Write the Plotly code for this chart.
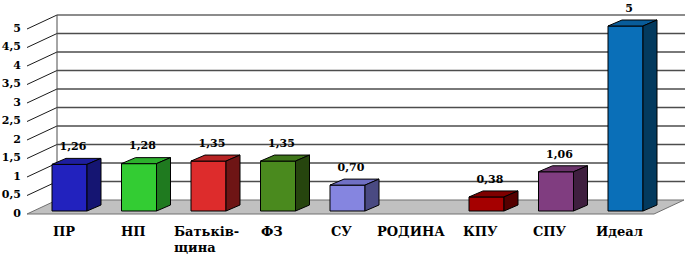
import plotly.graph_objects as go

# ---------------- data ----------------
categories = ["ПР", "НП", "Батьків-<br>щина", "ФЗ", "СУ", "РОДИНА", "КПУ", "СПУ", "Идеал"]
values = [1.26, 1.28, 1.35, 1.35, 0.70, 0.0, 0.38, 1.06, 5.0]
value_labels = ["1,26", "1,28", "1,35", "1,35", "0,70", "", "0,38", "1,06", "5"]
tick_values = [0, 0.5, 1, 1.5, 2, 2.5, 3, 3.5, 4, 4.5, 5]
tick_labels = ["0", "0,5", "1", "1,5", "2", "2,5", "3", "3,5", "4", "4,5", "5"]

front_colors = ["#2222BE", "#33CC33", "#DD2C2C", "#4A8A1E", "#8585E0", "#888888", "#A50000", "#803D80", "#0A6FB8"]
top_colors   = ["#1E1E9E", "#2DB02D", "#B82424", "#3E7519", "#7070C4", "#777777", "#7E0000", "#6A336A", "#085C9A"]
side_colors  = ["#151572", "#1F7A1F", "#6E1515", "#26450E", "#4A4A82", "#555555", "#550000", "#3F1F3F", "#033A5E"]

# ---------------- geometry (pixel based scale helpers) ----------------
W, H = 685, 256
PX_CAT = 69.5      # pixels per category
X0_PX = 69.5       # pixel of first category centre
PX_UNIT = 37.0     # pixels per value unit
Y0_PX = 211.0      # pixel of value 0 on bar front face

def px_x(p):
    return (p - X0_PX) / PX_CAT

def px_dy(p):
    return p / PX_UNIT

def px_y(p):
    return (Y0_PX - p) / PX_UNIT

x_range = [px_x(0), px_x(W)]
y_range = [px_y(H), px_y(0)]

half = 17.5 / PX_CAT          # half bar width
ddx = 14 / PX_CAT             # bar depth in x
ddy = px_dy(6)                # bar depth in y
front_off = -px_dy(3)         # wall front plane offset
back_off = px_dy(11)          # back wall offset
x_left_front = px_x(27)
x_left_back = px_x(57)
x_right_front = px_x(654)
x_right_back = px_x(684)
x_wall_right = px_x(690)
vmax = tick_values[-1]

fig = go.Figure()

def poly(xs, ys, fill, line_color="black", lw=1):
    fig.add_trace(go.Scatter(x=xs + [xs[0]], y=ys + [ys[0]], mode="lines", fill="toself",
                             fillcolor=fill, line=dict(color=line_color, width=lw),
                             hoverinfo="skip", showlegend=False))

def line(xs, ys, color, lw):
    fig.add_trace(go.Scatter(x=xs, y=ys, mode="lines", line=dict(color=color, width=lw),
                             hoverinfo="skip", showlegend=False))

# floor
poly([x_left_front, x_right_front, x_right_back, x_left_back],
     [front_off, front_off, back_off, back_off], "#C0C0C0", "#707070", 1)

# gridlines on back wall and left wall
for v in tick_values[1:-1]:
    line([x_left_back, x_wall_right], [v + back_off, v + back_off], "#4D4D4D", 1.5)
    line([x_left_front, x_left_back], [v + front_off, v + back_off], "#1A1A1A", 1)
# wall borders
line([x_left_back, x_wall_right], [vmax + back_off, vmax + back_off], "#1A1A1A", 1.2)
line([x_left_front, x_left_back], [vmax + front_off, vmax + back_off], "#1A1A1A", 1)
line([x_left_back, x_left_back], [back_off, vmax + back_off], "#4D4D4D", 1)

# bars
for i, v in enumerate(values):
    if v <= 0:
        continue
    poly([i - half, i + half, i + half, i - half], [0, 0, v, v], front_colors[i])
    poly([i - half, i + half, i + half + ddx, i - half + ddx], [v, v, v + ddy, v + ddy], top_colors[i])
    poly([i + half, i + half + ddx, i + half + ddx, i + half], [0, ddy, v + ddy, v], side_colors[i])

font_family = "DejaVu Serif"

# value labels
lbl_x = [i + 0.05 for i, v in enumerate(values) if value_labels[i]]
lbl_y = [v + ddy + px_dy(11) for i, v in enumerate(values) if value_labels[i]]
lbl_t = ["<b>%s</b>" % t for t in value_labels if t]
fig.add_trace(go.Scatter(x=lbl_x, y=lbl_y, text=lbl_t, mode="text", textposition="middle center",
                         textfont=dict(family=font_family, size=11, color="black"),
                         hoverinfo="skip", showlegend=False))

# y tick labels (front plane of left wall)
fig.add_trace(go.Scatter(x=[px_x(21)] * len(tick_values), y=[v + front_off for v in tick_values],
                         text=["<b>%s</b>" % t for t in tick_labels], mode="text",
                         textposition="middle left",
                         textfont=dict(family=font_family, size=11, color="black"),
                         hoverinfo="skip", showlegend=False))

# category labels (wrapped lines placed with tighter line spacing)
LINE_PX = 16
for i, c in enumerate(categories):
    parts = c.split("<br>")
    cx = i - 6 / PX_CAT
    if len(parts) == 1:
        fig.add_annotation(x=cx, y=px_y(231), text="<b>%s</b>" % parts[0],
                           xref="x", yref="y", xanchor="center", yanchor="middle",
                           showarrow=False,
                           font=dict(family=font_family, size=13, color="black"))
    else:
        left = cx - 31 / PX_CAT
        for k, p in enumerate(parts):
            fig.add_annotation(x=left, y=px_y(231 + k * LINE_PX), text="<b>%s</b>" % p,
                               xref="x", yref="y", xanchor="left", yanchor="middle",
                               showarrow=False,
                               font=dict(family=font_family, size=13, color="black"))

fig.update_layout(width=W, height=H, margin=dict(l=0, r=0, t=0, b=0),
                  paper_bgcolor="white", plot_bgcolor="white", showlegend=False,
                  font=dict(family=font_family),
                  xaxis=dict(range=x_range, visible=False, fixedrange=True),
                  yaxis=dict(range=y_range, visible=False, fixedrange=True))

fig.write_html("out.html")
